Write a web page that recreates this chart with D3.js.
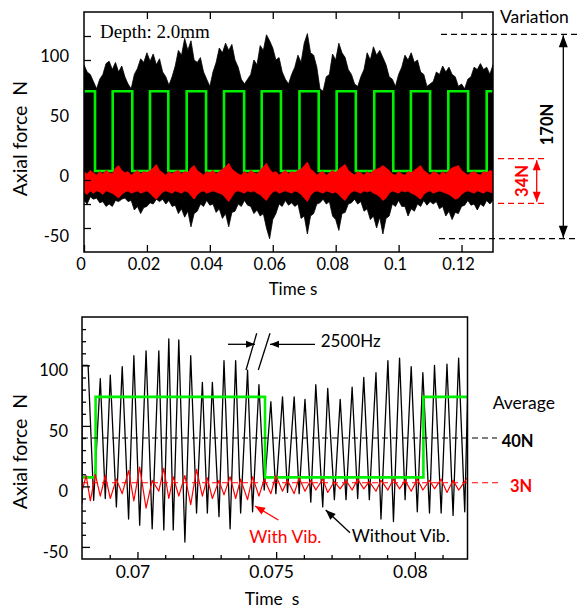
<!DOCTYPE html>
<html><head><meta charset="utf-8">
<script src="https://cdn.jsdelivr.net/npm/d3@7"></script>
<style>
body{margin:0;background:#fff}
svg{display:block}
text{font-family:Lato,"Open Sans",sans-serif;fill:#000}
</style>
</head><body>
<script>
// ---------------- DATA ----------------
// Top chart: envelopes sampled every 1 ms (0 .. 0.130 s)
const blackHi = [96,90,88,82,76,84,88,97,99,92, 98,90,95,86,80,76,88,93,101,98,
 106,99,105,96,101,90,86,79,86,95, 108,104,118,108,116,100,98,102,90,84,
 78,90,98,110,106,114,108,113,100,94, 84,80,84,88,100,96,112,108,121,116,
 110,100,102,90,84,80,88,94,104,98, 114,122,106,104,94,76,74,86,88,105,
 100,114,106,102,92,88,80,78,86,92, 106,100,111,104,108,102,96,86,84,78,
 88,94,104,100,106,98,100,90,88,78, 80,82,90,88,95,90,94,88,86,78,
 80,76,84,86,94,92,97,92,94,88, 96];
const blackLo = [-17,-20,-14,-16,-15,-19,-18,-22,-20,-22, -17,-18,-16,-15,-18,-17,-25,-22,-28,-23,
 -22,-19,-20,-16,-18,-16,-20,-17,-22,-21, -28,-24,-31,-26,-39,-28,-26,-20,-22,-17,
 -21,-20,-27,-24,-32,-28,-39,-27,-26,-20, -22,-17,-21,-22,-28,-25,-30,-28,-40,-49,
 -33,-28,-20,-22,-17,-21,-19,-22,-20,-32, -30,-45,-30,-28,-20,-19,-16,-20,-18,-30,
 -33,-42,-28,-27,-20,-19,-16,-20,-18,-26, -24,-33,-30,-40,-31,-45,-32,-30,-20,-22,
 -17,-22,-22,-30,-24,-26,-20,-22,-17,-21, -18,-20,-18,-24,-22,-30,-26,-33,-27,-28,
 -22,-21,-17,-21,-20,-25,-20,-22,-17,-20, -17];
const redHi = [7,5,8,6,4,7,5,8,6,5, 10,12,8,6,7,4,6,8,5,7, 6,8,10,13,8,6,4,7,5,7,
 8,5,7,6,10,12,8,6,4,7, 6,8,5,7,9,11,14,9,7,5, 4,7,5,8,6,5,8,11,14,9,
 6,7,4,6,8,5,7,6,8,9, 12,15,9,7,4,6,7,4,6,8, 6,9,11,13,8,6,4,7,6,4,
 7,5,8,9,10,12,10,8,5,4, 7,5,4,7,6,8,10,12,8,6, 4,7,6,4,7,5,8,10,11,12,
 8,6,4,6,7,5,4,7,6,8, 7];
const redLo = [-10,-12,-9,-11,-9,-10,-12,-9,-10,-11, -13,-15,-12,-10,-9,-11,-10,-9,-11,-10,
 -9,-11,-14,-16,-13,-10,-9,-10,-11,-9, -10,-11,-9,-10,-13,-16,-12,-10,-9,-11,
 -10,-9,-10,-11,-12,-15,-18,-14,-10,-9, -10,-11,-9,-10,-9,-11,-12,-15,-17,-13,
 -10,-9,-11,-10,-9,-10,-11,-9,-10,-12, -15,-18,-13,-10,-9,-10,-11,-9,-10,-11,
 -10,-12,-15,-17,-13,-10,-9,-10,-11,-9, -10,-9,-11,-12,-14,-17,-15,-11,-9,-10,
 -11,-9,-10,-9,-11,-12,-14,-16,-12,-10, -9,-11,-10,-9,-10,-11,-12,-14,-16,-15,
 -12,-10,-9,-10,-11,-9,-10,-11,-9,-10, -11];
// Green square wave (vibration on/off) edges, seconds
const greenFall = [0.0035,0.01535,0.0268,0.0388,0.0509,0.0626,0.0746,0.0864,0.0983,0.1100,0.1221];
const greenRise = [0.00912,0.02098,0.03264,0.0445,0.05648,0.06849,0.08031,0.09226,0.1039,0.1158,0.1280];
const greenHigh = 74, greenLow = 7.5;

// Bottom chart: detail, peaks & troughs
const blackT = [0.06800,0.06800,0.06822,0.06842,0.06866,0.06884,0.06902,0.06924,0.06945,0.06968,
 0.06987,0.07008,0.07031,0.07053,0.07077,0.07095,0.07113,0.07129,0.07149,0.07171,
 0.07192,0.07213,0.07234,0.07252,0.07270,0.07294,0.07312,0.07334,0.07354,0.07372,
 0.07397,0.07415,0.07438,0.07457,0.07481,0.07499,0.07523,0.07541,0.07565,0.07583,
 0.07604,0.07625,0.07643,0.07668,0.07686,0.07710,0.07731,0.07752,0.07774,0.07794,
 0.07816,0.07836,0.07860,0.07878,0.07903,0.07923,0.07945,0.07965,0.07987,0.08009,
 0.08029,0.08053,0.08071,0.08095,0.08116,0.08138,0.08158,0.08180,0.08192];
const blackV = [-14,100,100,-11.5,89,-10,92,-17,99,-27,
 108,-32,112,-35,112,-36,122,-36,121,-46,
 108,-22,86,-22,86,-25,104,-35,104,-22,
 96,-21,84,-3,70,-6,74,-5,74,-6,
 72,-13,84,-17,81,-11,72,-11,82,-10,
 90,-11,94,-27,104,-29,106,-11,99,-21,
 94,-22,100,-22,101,-24,106,-21,89];
const redT = [0.06800,0.06815,0.06830,0.06848,0.06866,0.06884,0.06902,0.06924,0.06945,0.06968,
 0.06987,0.07008,0.07031,0.07053,0.07077,0.07095,0.07113,0.07129,0.07149,0.07171,
 0.07192,0.07213,0.07234,0.07252,0.07270,0.07294,0.07312,0.07334,0.07354,0.07372,
 0.07397,0.07415,0.07438,0.07457,0.07481,0.07499,0.07523,0.07541,0.07565,0.07583,
 0.07604,0.07625,0.07643,0.07668,0.07686,0.07710,0.07731,0.07752,0.07774,0.07794,
 0.07816,0.07836,0.07860,0.07878,0.07903,0.07923,0.07945,0.07965,0.07987,0.08009,
 0.08029,0.08053,0.08071,0.08095,0.08116,0.08138,0.08158,0.08180,0.08192];
const redV = [-4,9,-12,10,-8,9,-10,6,-6,13,
 -12,16,-18,5,-4,15,-10,8,-8,9,
 -15,14,-8,7,-10,5,-7,8,-10,6,
 -11,8,-8,6,-6,9,-4,5,-6,7,
 -4,5,-3,6,-5,4,-2,5,-3,6,
 -2,4,-4,5,-3,6,-2,5,-4,6,
 -3,5,-2,6,-5,5,-3,4,8];

// Axis ticks / labels
const topXTicks = [0,0.02,0.04,0.06,0.08,0.10,0.12];
const topXLabels = ["0","0.02","0.04","0.06","0.08","0.1","0.12"];
const topYTicks = [-40,-20,0,20,40,60,80,100,120];
const yLabelVals = [-50,0,50,100];
const yLabels = ["-50","0","50","100"];
const botXMajor = [0.070,0.075,0.080];
const botXLabels = ["0.07","0.075","0.08"];
const botXMinor = [0.069,0.071,0.072,0.073,0.074,0.076,0.077,0.078,0.079,0.081];
const botYMinor = [-40,-30,-20,-10,10,20,30,40,60,70,80,90,110,120,130];

// Annotation values
const variationTop = 121.4, variationBot = -48.9;
const vibBandTop = 17.8, vibBandBot = -19.4;
const avgWithout = 40, avgWith = 3;

// ---------------- DRAW ----------------
const svg = d3.select("body").append("svg").attr("width",579).attr("height",609);
const defs = svg.append("defs");

const xT = d3.scaleLinear().domain([0,0.13]).range([84,493]);
const yT = d3.scaleLinear().domain([-60,140]).range([252,12]);
const xB = d3.scaleLinear().domain([0.068,0.0819]).range([82,467.5]);
const yB = d3.scaleLinear().domain([-60,140]).range([559,317]);

function clip(id,x,y){
  defs.append("clipPath").attr("id",id).append("rect")
    .attr("x",x.range()[0]).attr("y",y.range()[1])
    .attr("width",x.range()[1]-x.range()[0]).attr("height",y.range()[0]-y.range()[1]);
}
clip("clipT",xT,yT); clip("clipB",xB,yB);

function greenSteps(t0,t1){
  const edges = greenFall.map(t=>({t,to:greenLow})).concat(greenRise.map(t=>({t,to:greenHigh})))
    .sort((a,b)=>a.t-b.t);
  let level = greenHigh;
  edges.forEach(e=>{ if(e.t<=t0) level=e.to; });
  const pts=[[t0,level]];
  edges.filter(e=>e.t>t0 && e.t<t1).forEach(e=>{pts.push([e.t,level]); level=e.to; pts.push([e.t,level]);});
  pts.push([t1,level]);
  return pts;
}

// ---- top chart ----
const envRows = blackHi.map((h,i)=>({t:i/1000, hi:h, lo:blackLo[i], rhi:redHi[i], rlo:redLo[i]}));
const gT = svg.append("g").attr("clip-path","url(#clipT)");
gT.append("path").datum(envRows)
  .attr("d", d3.area().x(d=>xT(d.t)).y0(d=>yT(d.lo)).y1(d=>yT(d.hi)))
  .attr("fill","#000").attr("stroke","#000").attr("stroke-width",0.8).attr("stroke-linejoin","miter");
gT.append("path").datum(greenSteps(0,0.13))
  .attr("d", d3.line().x(d=>xT(d[0])).y(d=>yT(d[1])))
  .attr("fill","none").attr("stroke","#00f000").attr("stroke-width",2.6);
gT.append("path").datum(envRows)
  .attr("d", d3.area().x(d=>xT(d.t)).y0(d=>yT(d.rlo)).y1(d=>yT(d.rhi)))
  .attr("fill","#ff0000").attr("stroke","#ff0000").attr("stroke-width",0.8);

svg.append("rect").attr("x",84).attr("y",12).attr("width",409).attr("height",240)
  .attr("fill","none").attr("stroke","#000").attr("stroke-width",1.5);

function styleTicks(g){ g.select(".domain").remove(); g.selectAll("line").attr("stroke","#000").attr("stroke-width",1.3); g.attr("font-family",null).attr("font-size",null); }

svg.append("g").attr("transform","translate(84,0)")
  .call(d3.axisRight(yT).tickValues(topYTicks).tickSize(7).tickFormat("")).call(styleTicks);
svg.append("g").attr("transform","translate(84,0)")
  .call(d3.axisLeft(yT).tickValues(yLabelVals).tickSize(0).tickPadding(15).tickFormat((d,i)=>yLabels[i]))
  .call(styleTicks)
  .selectAll("text").attr("y",-3.3).style("font-size","16.5px");
svg.append("g").attr("transform","translate(0,252)")
  .call(d3.axisBottom(xT).tickValues(topXTicks).tickSize(-7).tickPadding(0).tickFormat((d,i)=>topXLabels[i]))
  .call(styleTicks)
  .selectAll("text").attr("y",12.2).attr("dy","0.35em").attr("x",-3.5).style("font-size","16.5px");
svg.append("g").attr("transform","translate(0,12)")
  .call(d3.axisTop(xT).tickValues(topXTicks.slice(1)).tickSize(-7).tickFormat(""))
  .call(styleTicks);

svg.append("text").attr("x",293).attr("y",295).attr("text-anchor","middle")
  .style("font-size","17px").text("Time s");
svg.append("text").attr("transform","translate(27,138.5) rotate(-90)").attr("text-anchor","middle")
  .style("font-size","19.5px").style("white-space","pre").text("Axial force  N");
svg.append("text").attr("x",100).attr("y",37.5)
  .style("font-family","'Liberation Serif','Times New Roman',serif").style("font-size","19px").text("Depth: 2.0mm");

// ---- bottom chart ----
const gB = svg.append("g").attr("clip-path","url(#clipB)");
const blackRows = blackT.map((t,i)=>[t,blackV[i]]);
const redRows = redT.map((t,i)=>[t,redV[i]]);
gB.append("path").datum(blackRows)
  .attr("d", d3.line().x(d=>xB(d[0])).y(d=>yB(d[1])))
  .attr("fill","none").attr("stroke","#000").attr("stroke-width",1.3).attr("stroke-linejoin","round");
gB.append("path").datum(greenSteps(0.068,0.0819))
  .attr("d", d3.line().x(d=>xB(d[0])).y(d=>yB(d[1])))
  .attr("fill","none").attr("stroke","#00f000").attr("stroke-width",2.6);
gB.append("path").datum(redRows)
  .attr("d", d3.line().x(d=>xB(d[0])).y(d=>yB(d[1])))
  .attr("fill","none").attr("stroke","#ff0000").attr("stroke-width",1.2).attr("stroke-linejoin","round");

// average dashed lines
svg.append("line").attr("x1",82).attr("x2",497).attr("y1",yB(avgWithout)).attr("y2",yB(avgWithout))
  .attr("stroke","#000").attr("stroke-width",1.2).attr("stroke-dasharray","6,4");
svg.append("line").attr("x1",82).attr("x2",499).attr("y1",yB(avgWith)).attr("y2",yB(avgWith))
  .attr("stroke","#ff0000").attr("stroke-width",1.2).attr("stroke-dasharray","6,4");

svg.append("rect").attr("x",82).attr("y",317).attr("width",385.5).attr("height",242)
  .attr("fill","none").attr("stroke","#000").attr("stroke-width",1.5);

svg.append("g").attr("transform","translate(82,0)")
  .call(d3.axisRight(yB).tickValues(botYMinor).tickSize(4).tickFormat("")).call(styleTicks);
svg.append("g").attr("transform","translate(82,0)")
  .call(d3.axisRight(yB).tickValues(yLabelVals).tickSize(8).tickFormat("")).call(styleTicks);
svg.append("g").attr("transform","translate(82,0)")
  .call(d3.axisLeft(yB).tickValues(yLabelVals).tickSize(0).tickPadding(14).tickFormat((d,i)=>yLabels[i]))
  .call(styleTicks)
  .selectAll("text").attr("y",5).style("font-size","16.5px");
svg.append("g").attr("transform","translate(0,559)")
  .call(d3.axisBottom(xB).tickValues(botXMinor).tickSize(-4).tickFormat("")).call(styleTicks);
svg.append("g").attr("transform","translate(0,559)")
  .call(d3.axisBottom(xB).tickValues(botXMajor).tickSize(-7).tickPadding(0).tickFormat((d,i)=>botXLabels[i]))
  .call(styleTicks)
  .selectAll("text").attr("y",12.7).attr("dy","0.35em").attr("x",-5).style("font-size","17.5px");

svg.append("text").attr("x",272).attr("y",604.5).attr("text-anchor","middle")
  .style("font-size","17.5px").style("white-space","pre").text("Time  s");
svg.append("text").attr("transform","translate(27,451.5) rotate(-90)").attr("text-anchor","middle")
  .style("font-size","19.5px").style("white-space","pre").text("Axial force  N");

// ---- annotations ----
function head(x1,y1,x2,y2,color,len,w){
  const a=Math.atan2(y2-y1,x2-x1), c=Math.cos(a), s=Math.sin(a);
  const bx=x2-len*c, by=y2-len*s;
  svg.append("path").attr("d",`M${x2},${y2}L${bx-w/2*s},${by+w/2*c}L${bx+w/2*s},${by-w/2*c}Z`).attr("fill",color);
}
function arrow(x1,y1,x2,y2,color,opt={}){
  const len=opt.len||9, w=opt.w||7;
  svg.append("line").attr("x1",x1).attr("y1",y1).attr("x2",x2).attr("y2",y2)
    .attr("stroke",color).attr("stroke-width",opt.sw||1.3);
  head(x1,y1,x2,y2,color,len,w);
  if(opt.both) head(x2,y2,x1,y1,color,len,w);
}
function dash(x1,x2,y,color){
  svg.append("line").attr("x1",x1).attr("x2",x2).attr("y1",y).attr("y2",y)
    .attr("stroke",color).attr("stroke-width",1.2).attr("stroke-dasharray","6,4");
}
// top: variation
svg.append("text").attr("x",500).attr("y",23.3).style("font-size","17.5px").text("Variation");
dash(441,579,yT(variationTop),"#000");
dash(439,579,yT(variationBot),"#000");
arrow(563.3,yT(variationTop)+1,563.3,yT(variationBot)-1,"#000",{both:true,len:12,w:9});
svg.append("text").attr("transform",`translate(553,${(yT(variationTop)+yT(variationBot))/2-12}) rotate(-90)`)
  .attr("text-anchor","middle").style("font-size","16.5px").style("font-weight","bold").text("170N");
dash(498,545,yT(vibBandTop),"#ff0000");
dash(498,545,yT(vibBandBot),"#ff0000");
arrow(536.7,yT(vibBandTop)+1.5,536.7,yT(vibBandBot)-1.5,"#ff0000",{both:true,len:10,w:8});
svg.append("text").attr("transform",`translate(528.3,${(yT(vibBandTop)+yT(vibBandBot))/2}) rotate(-90)`)
  .attr("text-anchor","middle").style("font-size","16.5px").style("font-weight","bold").style("fill","#ff0000").text("34N");

// bottom: 2500Hz
arrow(228,344.3,255,344.3,"#000",{len:9,w:7});
arrow(315,344.3,270,344.3,"#000",{len:9,w:7});
svg.append("line").attr("x1",246).attr("y1",370).attr("x2",256.7).attr("y2",333.3).attr("stroke","#000").attr("stroke-width",1.3);
svg.append("line").attr("x1",258.3).attr("y1",370).attr("x2",270).attr("y2",333.3).attr("stroke","#000").attr("stroke-width",1.3);
svg.append("text").attr("x",320.7).attr("y",346.7).style("font-size","17px").text("2500Hz");
svg.append("text").attr("x",492.7).attr("y",409).style("font-size","17.5px").text("Average");
svg.append("text").attr("x",501.7).attr("y",446.7).style("font-size","16.5px").style("font-weight","bold").text("40N");
svg.append("text").attr("x",510).attr("y",491.7).style("font-size","16.5px").style("font-weight","bold").style("fill","#ff0000").text("3N");
svg.append("text").attr("x",249.3).attr("y",542.7).style("font-size","17.5px").style("fill","#ff0000").text("With Vib.");
arrow(278.3,520,255,506,"#ff0000",{len:10,w:8});
svg.append("text").attr("x",351.7).attr("y",541.7).style("font-size","17.5px").text("Without Vib.");
arrow(350,532.7,325.7,510,"#000",{len:10,w:8});
</script>
</body></html>
